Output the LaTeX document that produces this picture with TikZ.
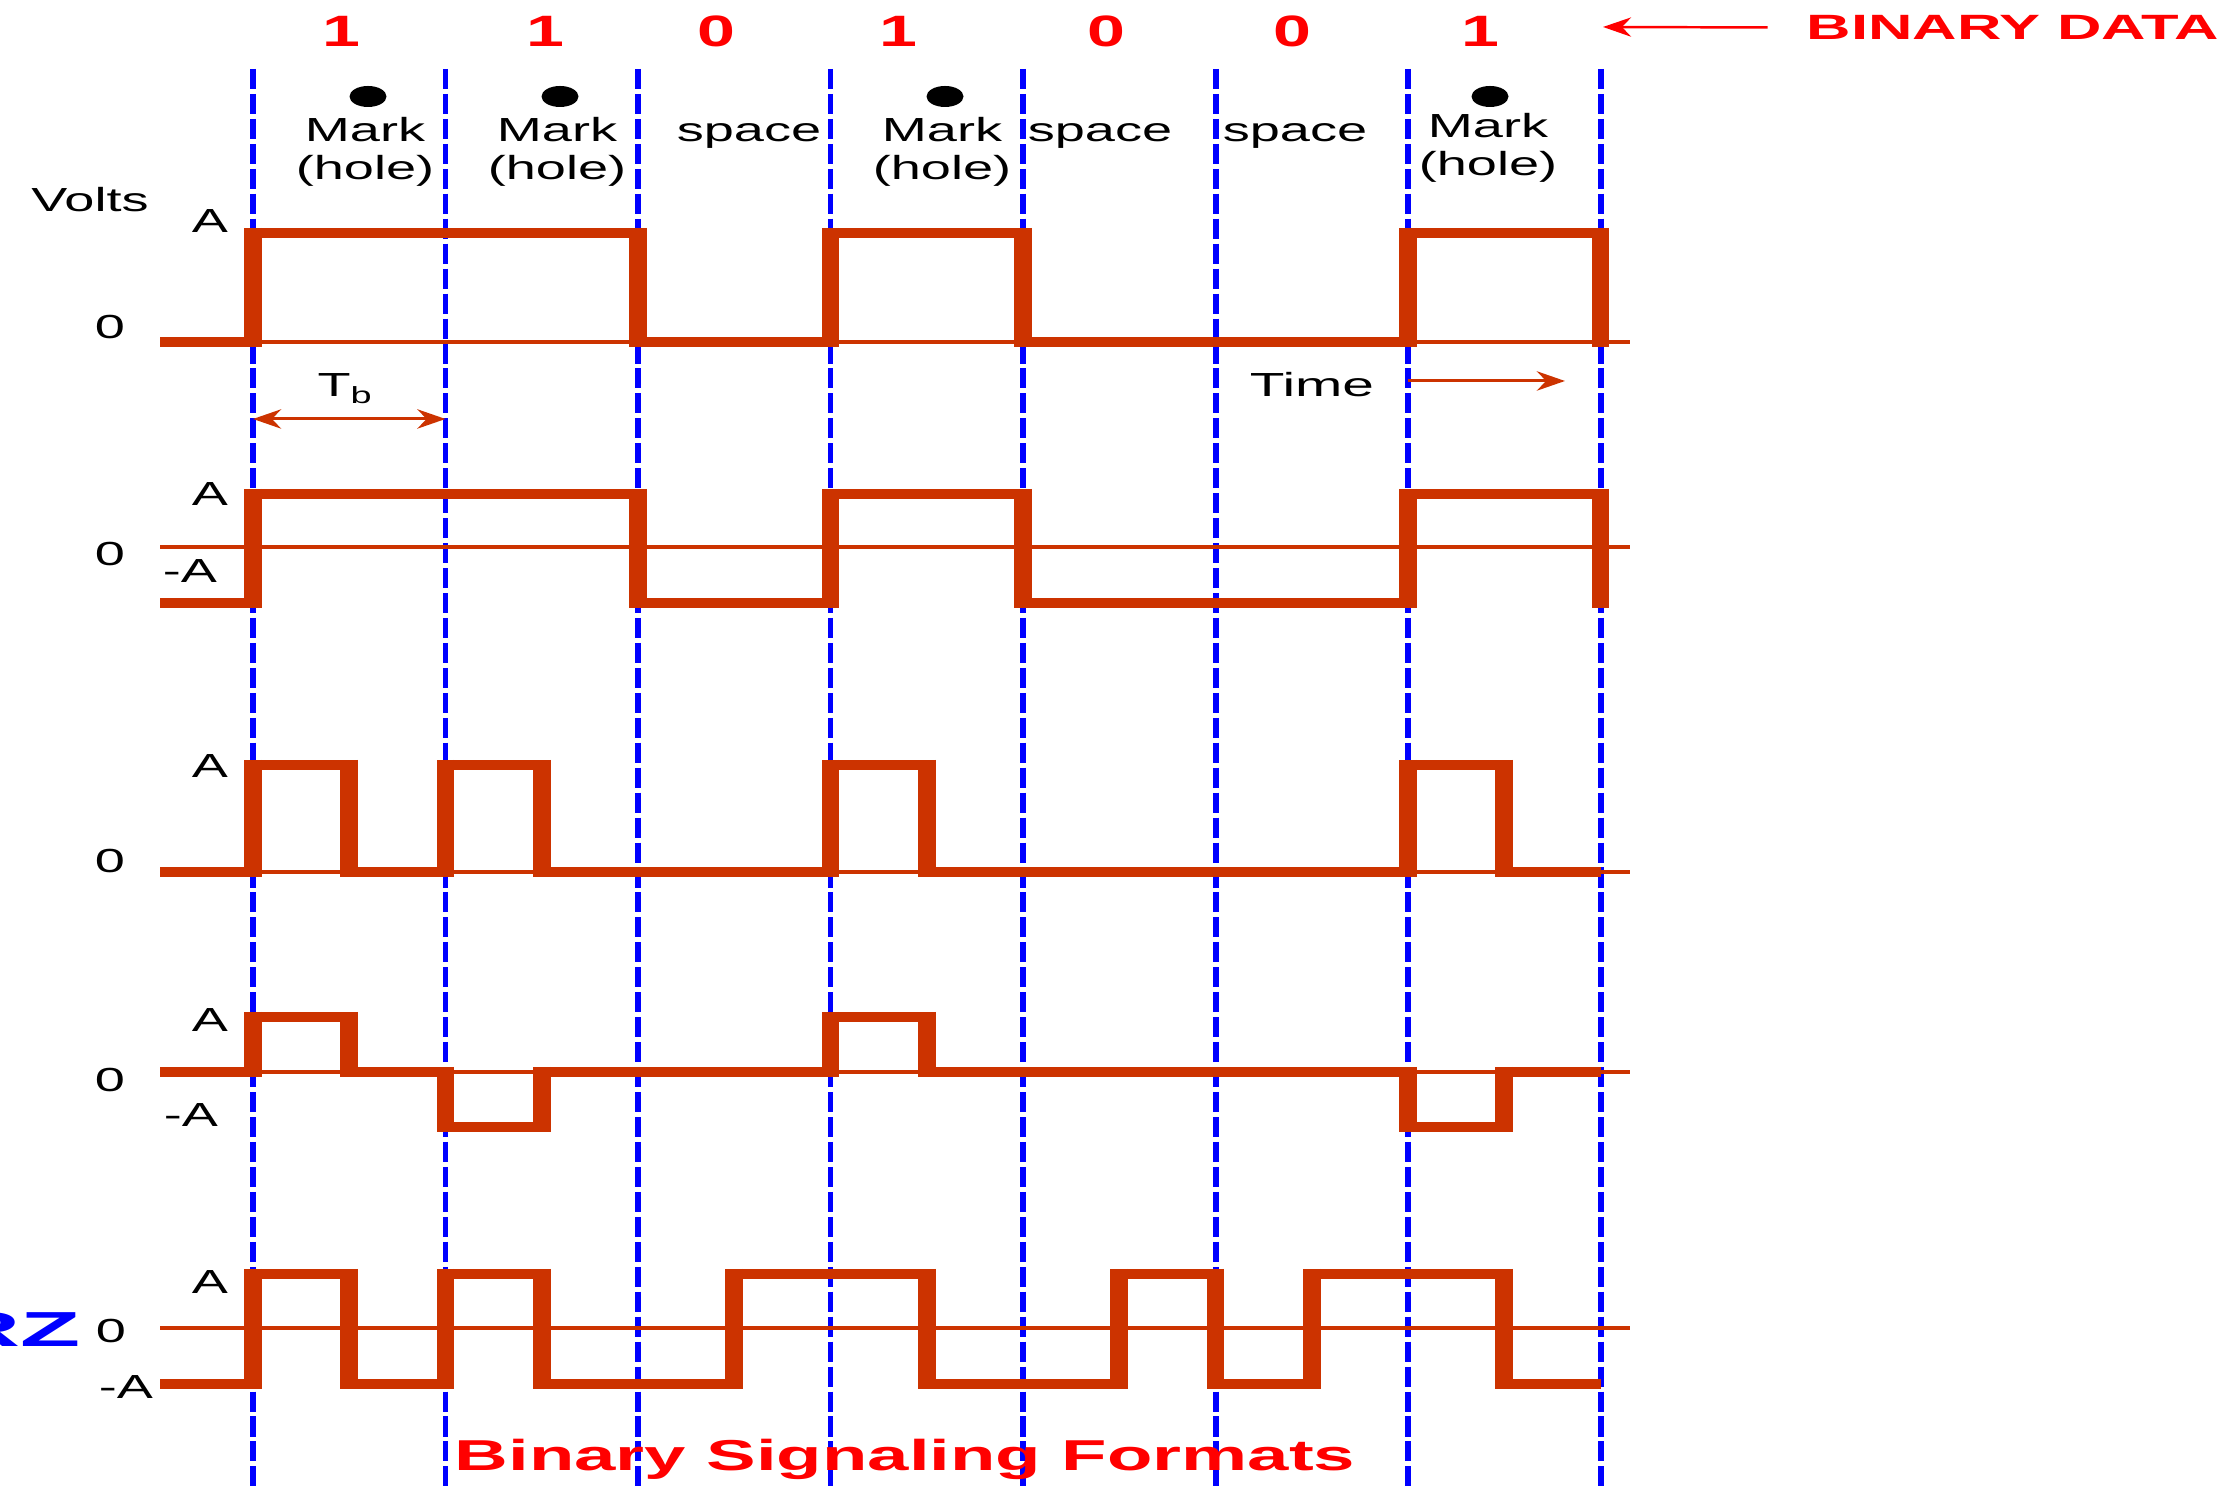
\documentclass[tikz,border=0pt]{standalone}
\usepackage{fontspec}
\setmainfont{Liberation Sans}
\usepackage{xcolor}
\usetikzlibrary{arrows.meta}
\definecolor{wavered}{RGB}{204,51,0}

\begin{document}
\begin{tikzpicture}[>={Stealth[length=8pt,width=5.5pt]},
  lbl/.style={font=\fontsize{9.5}{11}\selectfont,xscale=1.62,inner sep=0pt},
  bitval/.style={font=\fontsize{12.5}{14}\selectfont\bfseries,text=red,xscale=1.55,inner sep=0pt},
  wave/.style={wavered,line width=2.85pt,line join=miter},
  rise/.style={wavered,line width=5pt},
  axis/.style={wavered,line width=0.95pt},
  slot/.style={blue,line width=1.7pt,dash pattern=on 5.7pt off 1.4pt}]
  \useasboundingbox (0,0) rectangle (22.4,14.9);
  % bit slots
  \foreach \i in {0,...,7}
    \draw[slot] (2.53+1.925*\i,14.21) -- (2.53+1.925*\i,0);
  % binary data and punched-tape meaning
  \foreach \x/\d [count=\i] in {3.41/1,5.45/1,7.16/0,8.98/1,11.06/0,12.92/0,14.80/1}
    \node[bitval] (bit\i) at (\x,14.59) {\d};
  \node[font=\fontsize{10}{12}\selectfont\bfseries,text=red,xscale=1.75,inner sep=0pt] (bdata) at (20.13,14.625) {BINARY DATA};
  \coordinate (bdtip) at (16.03,14.63);
  \draw[->,red,line width=0.7pt] ([xshift=-0.38cm]bdata.west) -- (bdtip);
  \foreach \x/\y in {3.68/13.935,5.60/13.935,9.45/13.935,14.90/13.935}
    \fill (\x,\y) ellipse (0.185 and 0.105);
  \node[lbl,anchor=base] (mark1) at (3.65,13.48) {Mark};
  \node[lbl,anchor=base] (hole1) at (3.65,13.10) {(hole)};
  \node[lbl,anchor=base] (mark2) at (5.57,13.48) {Mark};
  \node[lbl,anchor=base] (hole2) at (5.57,13.10) {(hole)};
  \node[lbl,anchor=base] (space3) at (7.49,13.48) {space};
  \node[lbl,anchor=base] (mark4) at (9.42,13.48) {Mark};
  \node[lbl,anchor=base] (hole4) at (9.42,13.10) {(hole)};
  \node[lbl,anchor=base] (space5) at (11.00,13.48) {space};
  \node[lbl,anchor=base] (space6) at (12.95,13.48) {space};
  \node[lbl,anchor=base] (mark7) at (14.88,13.52) {Mark};
  \node[lbl,anchor=base] (hole7) at (14.88,13.14) {(hole)};
  \node[lbl] (volts) at (0.90,12.90) {Volts};
  % level labels
  \node[lbl] (a1) at (2.10,12.69) {A};
  \node[lbl] (z1) at (1.10,11.63) {0};
  \node[lbl] (a2) at (2.10,9.96) {A};
  \node[lbl] (z2) at (1.10,9.36) {0};
  \node[lbl] (m2) at (1.90,9.19) {-A};
  \node[lbl] (a3) at (2.10,7.24) {A};
  \node[lbl] (z3) at (1.10,6.29) {0};
  \node[lbl] (a4) at (2.10,4.70) {A};
  \node[lbl] (z4) at (1.10,4.10) {0};
  \node[lbl] (m4) at (1.91,3.75) {-A};
  \node[lbl] (a5) at (2.10,2.08) {A};
  \node[lbl] (z5) at (1.11,1.59) {0};
  \node[lbl] (m5) at (1.26,1.03) {-A};
  \node[font=\fontsize{14}{16}\selectfont\bfseries,text=blue,xscale=2,inner sep=0pt,anchor=east] (code5) at (0.82,1.605) {RZ};
  % bit period and time axis
  \coordinate (tbl) at (2.53,10.71);
  \coordinate (tbr) at (4.455,10.71);
  \draw[<->,wavered,line width=0.85pt] (tbl) -- (tbr);
  \node[lbl,anchor=base] (tb) at (3.46,10.93) {T\textsubscript{b}};
  \node[lbl,anchor=base,xscale=1.05] (time) at (13.12,10.93) {Time};
  \coordinate (tstart) at (14.08,11.09);
  \coordinate (tend) at (15.65,11.09);
  \draw[->,wavered,line width=0.85pt] (tstart) -- (tend);
  % the five waveforms, one bit = 1.925cm
  \begin{scope}[xshift=2.53cm,x=1.925cm]
    % unipolar NRZ
    \draw[axis] (-0.483,11.48) -- (7.153,11.48);
    \draw[wave] (-0.483,11.48) -- (0,11.48) -- (0,12.57) -- (2,12.57) -- (2,11.48) -- (3,11.48) -- (3,12.57) -- (4,12.57) -- (4,11.48) -- (6,11.48) -- (6,12.57) -- (7,12.57) -- (7,11.48);
    \foreach \x in {0,2,3,4,6,7} \draw[rise] (\x,12.62) -- (\x,11.43);
    % polar NRZ
    \draw[axis] (-0.483,9.43) -- (7.153,9.43);
    \draw[wave] (-0.483,8.87) -- (0,8.87) -- (0,9.96) -- (2,9.96) -- (2,8.87) -- (3,8.87) -- (3,9.96) -- (4,9.96) -- (4,8.87) -- (6,8.87) -- (6,9.96) -- (7,9.96) -- (7,8.87);
    \foreach \x in {0,2,3,4,6,7} \draw[rise] (\x,10.01) -- (\x,8.82);
    % unipolar RZ
    \draw[axis] (-0.483,6.18) -- (7.153,6.18);
    \draw[wave] (-0.483,6.18) -- (0,6.18) -- (0,7.25) -- (0.5,7.25) -- (0.5,6.18) -- (1,6.18) -- (1,7.25) -- (1.5,7.25) -- (1.5,6.18) -- (3,6.18) -- (3,7.25) -- (3.5,7.25) -- (3.5,6.18) -- (6,6.18) -- (6,7.25) -- (6.5,7.25) -- (6.5,6.18) -- (7,6.18);
    \foreach \x in {0,0.5,1,1.5,3,3.5,6,6.5} \draw[rise] (\x,7.30) -- (\x,6.13);
    % bipolar RZ
    \draw[axis] (-0.483,4.18) -- (7.153,4.18);
    \draw[wave] (-0.483,4.18) -- (0,4.18) -- (0,4.73) -- (0.5,4.73) -- (0.5,4.18) -- (1,4.18) -- (1,3.63) -- (1.5,3.63) -- (1.5,4.18) -- (3,4.18) -- (3,4.73) -- (3.5,4.73) -- (3.5,4.18) -- (6,4.18) -- (6,3.63) -- (6.5,3.63) -- (6.5,4.18) -- (7,4.18);
    \foreach \x in {0,0.5,3,3.5} \draw[rise] (\x,4.78) -- (\x,4.13);
    \foreach \x in {1,1.5,6,6.5} \draw[rise] (\x,4.23) -- (\x,3.58);
    % Manchester
    \draw[axis] (-0.483,1.62) -- (7.153,1.62);
    \draw[wave] (-0.483,1.06) -- (0,1.06) -- (0,2.16) -- (0.5,2.16) -- (0.5,1.06) -- (1,1.06) -- (1,2.16) -- (1.5,2.16) -- (1.5,1.06) -- (2.5,1.06) -- (2.5,2.16) -- (3.5,2.16) -- (3.5,1.06) -- (4.5,1.06) -- (4.5,2.16) -- (5,2.16) -- (5,1.06) -- (5.5,1.06) -- (5.5,2.16) -- (6.5,2.16) -- (6.5,1.06) -- (7,1.06);
    \foreach \x in {0,0.5,1,1.5,2.5,3.5,4.5,5,5.5,6.5} \draw[rise] (\x,2.21) -- (\x,1.01);
  \end{scope}
  \node[font=\fontsize{12.3}{14}\selectfont\bfseries,text=red,xscale=1.72,inner sep=0pt,anchor=base] (caption) at (9.05,0.19) {Binary Signaling Formats};
\end{tikzpicture}
\end{document}
